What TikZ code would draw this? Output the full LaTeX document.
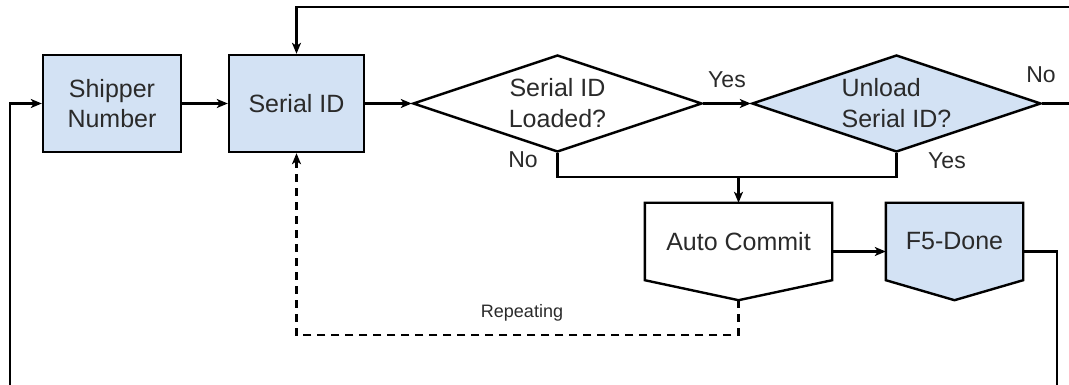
\documentclass[tikz,border=0pt]{standalone}
\usepackage{fontspec}
\setmainfont{Liberation Sans}
\usetikzlibrary{shapes.geometric,arrows.meta,backgrounds,calc}
\definecolor{boxBlue}{HTML}{D3E2F4}
\definecolor{txtGray}{HTML}{2A2A2A}
\tikzset{
  box/.style={draw, line width=2.4pt, fill=boxBlue, minimum width=137pt, minimum height=97pt,
    inner sep=0pt, align=center, text=txtGray, font=\fontsize{25}{30}\selectfont},
  decision/.style={draw, line width=2.4pt, diamond, aspect=2.98, minimum width=289pt,
    minimum height=97pt, inner sep=0pt, align=center, text=txtGray, font=\fontsize{25}{31}\selectfont},
  body/.style={minimum width=187pt, minimum height=77pt, inner sep=0pt, text=txtGray,
    font=\fontsize{25}{30}\selectfont},
  flow/.style={line width=2.2pt, -{Stealth[length=11pt,width=9pt,inset=3pt]}},
  line/.style={line width=2.2pt},
  lbl/.style={text=txtGray, inner sep=0pt, font=\fontsize{23}{26}\selectfont},
}

\begin{document}
\begin{tikzpicture}[x=1pt, y=-1pt]
\useasboundingbox (0,0) rectangle (1069,385);
\node[box, minimum width=138pt] (ship) at (112,103.5) {Shipper\\Number};
\node[box, minimum width=135pt] (serial) at (296.5,103.5) {Serial ID};
\node[decision] (loaded) at (557.5,103.5) {Serial ID\\Loaded?};
\node[decision, fill=boxBlue, align=left] (unload) at (896.5,103.5) {Unload\\Serial ID?};
\node[body] (auto) at (738.5,241.5) {Auto Commit};
\node[body, minimum width=137pt] (done) at (954.5,241.5) {F5-Done};
\coordinate (autotip) at ($(auto.south)+(0,20)$);
\coordinate (donetip) at ($(done.south)+(0,20)$);
\begin{scope}[on background layer]
\draw[line, line width=2.4pt] (auto.north west) -- (auto.north east) -- (auto.south east) -- (autotip) -- (auto.south west) -- cycle;
\draw[line, line width=2.4pt, fill=boxBlue] (done.north west) -- (done.north east) -- (done.south east) -- (donetip) -- (done.south west) -- cycle;
\end{scope}
% loose ends at the edges
\coordinate (topR) at (1069,7);
\coordinate (noR) at (1069,103.5);
\coordinate (botL) at (10,385);
\coordinate (botR) at (1057,385);
\coordinate (join) at (738.5,177);
\coordinate (rep) at (738.5,335);
% connectors
\draw[flow] (botL) |- (ship.west);
\draw[flow] (ship) -- (serial);
\draw[flow] (serial) -- (loaded);
\draw[flow] (loaded.east) -- (unload.west) node[lbl, midway, above=15pt] {Yes};
\draw[line] (unload.east) -- (noR);
\node[lbl] (nolbl) at (1041,75) {No};
\draw[flow] (topR) -| (serial.north);
\draw[line] (loaded.south) |- (join) -| (unload.south);
\node[lbl] (nolbl2) at (523,160) {No};
\node[lbl] (yeslbl) at (947,161) {Yes};
\draw[flow] (join) -- (auto.north);
\draw[flow] ([yshift=-10pt]auto.east) -- ([yshift=-10pt]done.west);
\draw[line] ([yshift=-10pt]done.east) -| (botR);
\draw[flow, dash pattern=on 8pt off 6pt] (autotip) -- (rep) -| (serial.south);
\node[text=txtGray, font=\fontsize{18}{20}\selectfont] (replbl) at (522,313) {Repeating};
\end{tikzpicture}
\end{document}
